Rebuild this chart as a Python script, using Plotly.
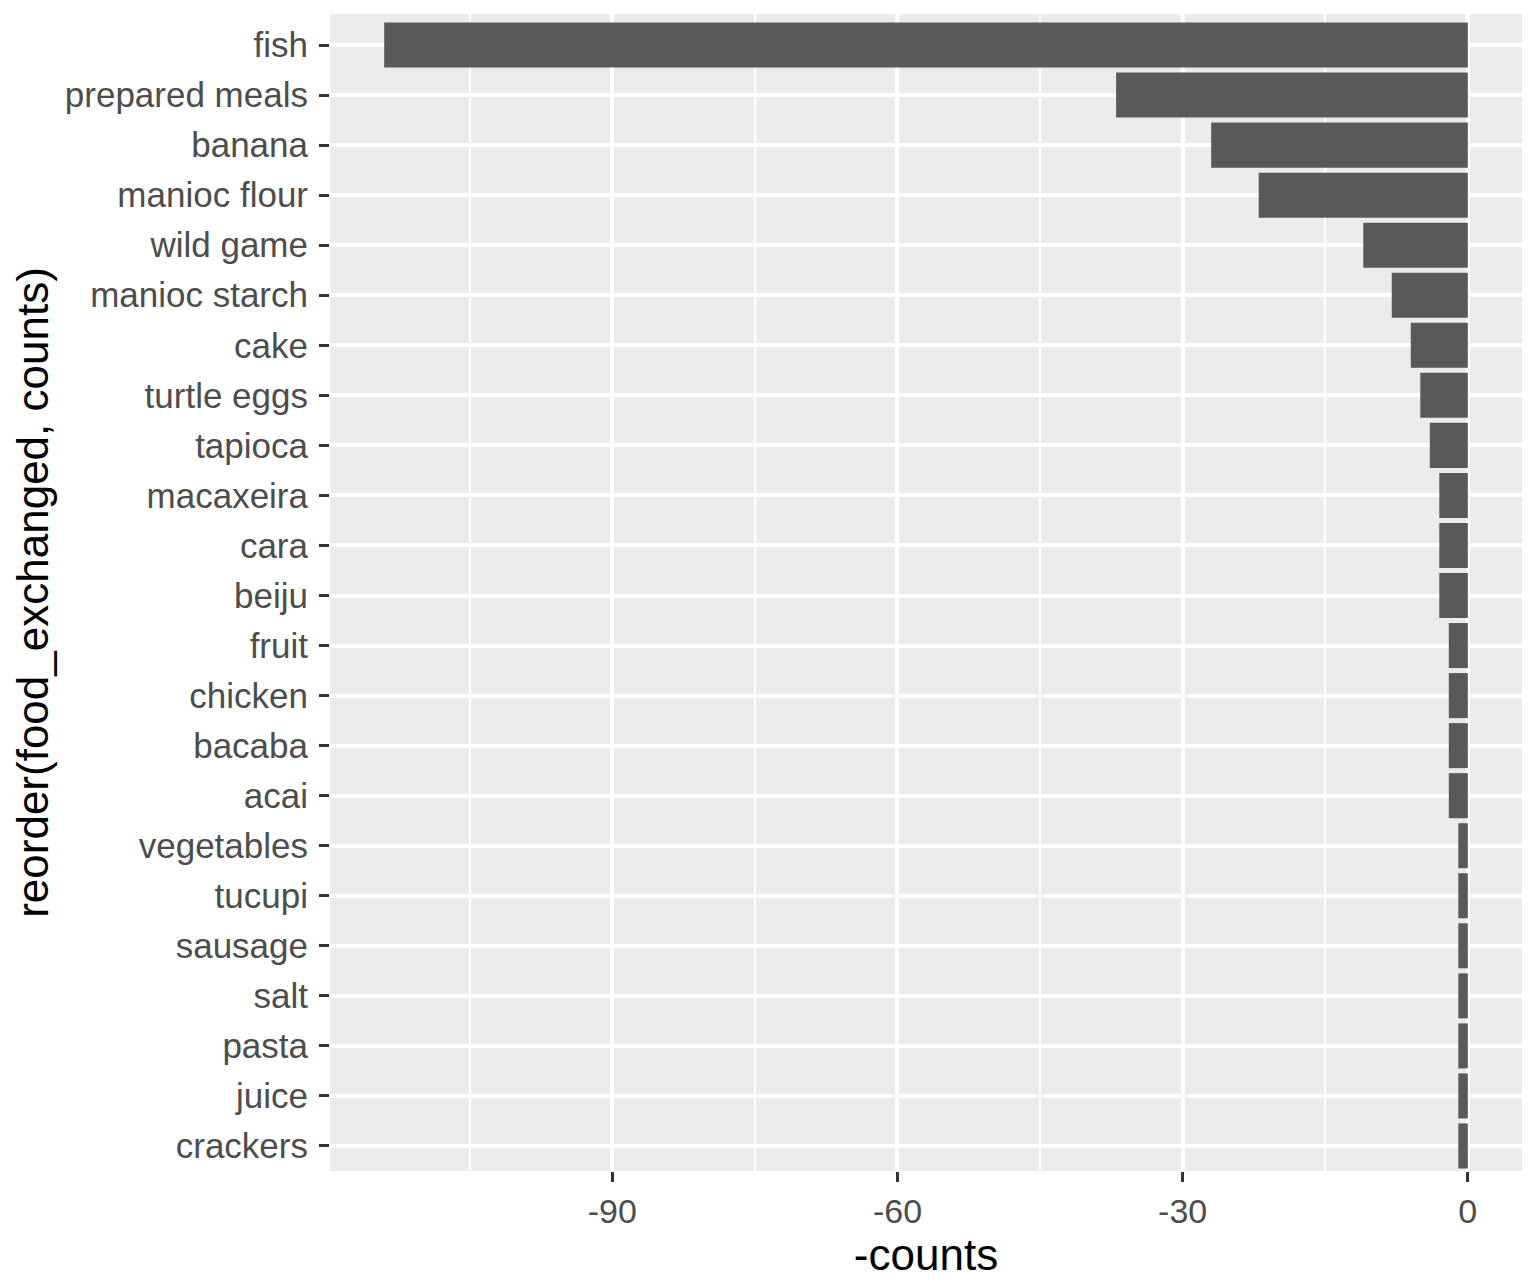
import plotly.graph_objects as go

# food items, ordered from top to bottom as in the chart
foods = ["fish", "prepared meals", "banana", "manioc flour", "wild game",
         "manioc starch", "cake", "turtle eggs", "tapioca", "macaxeira",
         "cara", "beiju", "fruit", "chicken", "bacaba", "acai",
         "vegetables", "tucupi", "sausage", "salt", "pasta", "juice", "crackers"]
counts = [114, 37, 27, 22, 11, 8, 6, 5, 4, 3, 3, 3, 2, 2, 2, 2,
          1, 1, 1, 1, 1, 1, 1]
neg_counts = [-c for c in counts]

x_ticks = [-90, -60, -30, 0]

FONT = "Liberation Sans, Arial, Helvetica, sans-serif"

fig = go.Figure(go.Bar(
    x=neg_counts, y=foods, orientation="h",
    marker=dict(color="#595959", line=dict(width=0)),
    width=0.9,
))

# page body adds an 8px offset, so the figure is a bit smaller than the window
fig.update_layout(
    width=1526, height=1277,
    margin=dict(l=322, r=12, t=6, b=114),
    paper_bgcolor="white", plot_bgcolor="#ebebeb",
    font=dict(family=FONT, color="#4d4d4d", size=34),
    showlegend=False,
    bargap=0.1,
)

fig.update_xaxes(
    range=[-119.7, 5.7],
    tickvals=x_ticks, ticktext=[str(v) for v in x_ticks],
    showgrid=True, gridcolor="white", gridwidth=3.5,
    minor=dict(dtick=15, tick0=0, showgrid=True, gridcolor="white", gridwidth=1.8),
    ticks="outside", ticklen=10, tickwidth=3, tickcolor="#333333",
    tickfont=dict(size=34, color="#4d4d4d"),
    automargin=False,
    zeroline=False, showline=False,
    title=dict(text="-counts", font=dict(size=44, color="black"), standoff=4),
)

fig.update_yaxes(
    categoryorder="array", categoryarray=foods,
    range=[len(foods) - 0.5, -0.62],
    showgrid=True, gridcolor="white", gridwidth=3.5,
    ticks="outside", ticklen=10, tickwidth=3, tickcolor="#333333",
    tickfont=dict(size=35, color="#4d4d4d"),
    ticklabelstandoff=4,
    automargin=False,
    zeroline=False, showline=False,
    title=dict(text="reorder(food_exchanged, counts)", font=dict(size=44, color="black"), standoff=12),
)

fig.write_html("out.html")
